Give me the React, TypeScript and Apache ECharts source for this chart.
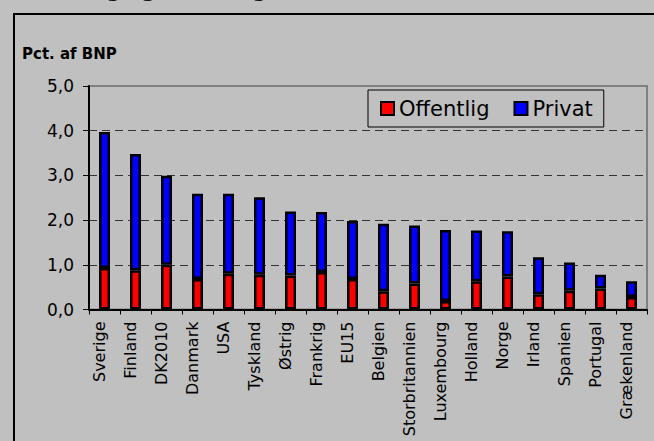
import React, { useEffect, useRef } from "react";
import * as echarts from "echarts";

const categories = [
  "Sverige", "Finland", "DK2010", "Danmark", "USA", "Tyskland", "Østrig", "Frankrig", "EU15",
  "Belgien", "Storbritannien", "Luxembourg", "Holland", "Norge", "Irland", "Spanien", "Portugal", "Grækenland",
];
const offentlig = [0.93, 0.88, 1.0, 0.68, 0.8, 0.78, 0.76, 0.84, 0.68, 0.41, 0.58, 0.19, 0.63, 0.74, 0.34, 0.42, 0.47, 0.28];
const privat = [3.04, 2.6, 1.99, 1.91, 1.79, 1.73, 1.43, 1.34, 1.3, 1.51, 1.3, 1.59, 1.14, 1.01, 0.83, 0.63, 0.31, 0.35];
const yTicks = [0, 1, 2, 3, 4, 5];

const FONT = "DejaVu Sans, Verdana, sans-serif";

export default function App() {
  const ref = useRef<HTMLDivElement>(null);
  useEffect(() => {
    if (!ref.current) return;
    const chart = echarts.init(ref.current, null, { renderer: "svg" });
    chart.setOption({
      animation: false,
      backgroundColor: "#c0c0c0",
      textStyle: { fontFamily: FONT },
      graphic: [
        {
          type: "text",
          left: 12,
          top: -20,
          style: {
            text: "Forskning og udvikling, 2000",
            font: "italic bold 20px DejaVu Sans",
            fill: "#111",
          },
        },
        {
          type: "rect",
          shape: { x: 14, y: 14, width: 700, height: 500 },
          style: { fill: "none", stroke: "#000", lineWidth: 2 },
        },
        {
          type: "text",
          x: 22,
          y: 54,
          style: {
            text: "Pct. af BNP",
            font: "bold 15px DejaVu Sans",
            fill: "#000",
            verticalAlign: "middle",
          },
        },
      ],
      legend: {
        left: 368,
        top: 90,
        orient: "horizontal",
        icon: "rect",
        itemWidth: 13,
        itemHeight: 13,
        itemGap: 24,
        padding: [8, 11, 8, 12],
        borderColor: "#000",
        borderWidth: 1,
        backgroundColor: "transparent",
        textStyle: { fontSize: 21, color: "#000", fontFamily: FONT },
        data: ["Offentlig", "Privat"],
      },
      grid: {
        show: true,
        left: 89,
        top: 86,
        width: 558,
        height: 223.5,
        borderColor: "#808080",
        borderWidth: 2,
        backgroundColor: "transparent",
      },
      xAxis: {
        type: "category",
        data: categories,
        axisLine: { show: true, lineStyle: { color: "#000", width: 2 } },
        axisTick: { show: true, interval: 0, length: 5, lineStyle: { color: "#000", width: 1 } },
        axisLabel: {
          interval: 0,
          rotate: 90,
          fontSize: 16,
          margin: 12,
          color: "#000",
          fontFamily: FONT,
          verticalAlign: "bottom",
          lineHeight: 11,
        },
      },
      yAxis: {
        type: "value",
        min: yTicks[0],
        max: yTicks[yTicks.length - 1],
        interval: 1,
        axisLine: { show: true, lineStyle: { color: "#000", width: 2 } },
        axisTick: { show: true, length: 6, lineStyle: { color: "#000", width: 1 } },
        axisLabel: {
          fontSize: 17,
          margin: 15,
          color: "#000",
          fontFamily: FONT,
          formatter: (v: number) => v.toFixed(1).replace(".", ","),
        },
        splitLine: {
          show: true,
          lineStyle: {
            color: ["#333", "#333", "#333", "#333", "#333", "#808080"],
            type: [8, 5],
            width: 1,
          },
        },
      },
      series: [
        {
          name: "Offentlig",
          type: "bar",
          stack: "total",
          data: offentlig,
          barWidth: 11,
          itemStyle: { color: "#ff0000", borderColor: "#000", borderWidth: 2.5 },
        },
        {
          name: "Privat",
          type: "bar",
          stack: "total",
          data: privat,
          barWidth: 11,
          itemStyle: { color: "#0000ff", borderColor: "#000", borderWidth: 2.5 },
        },
      ],
    });
    return () => chart.dispose();
  }, []);
  return (
    <div
      ref={ref}
      style={{ position: "fixed", left: 0, top: 0, width: 654, height: 441 }}
    />
  );
}
